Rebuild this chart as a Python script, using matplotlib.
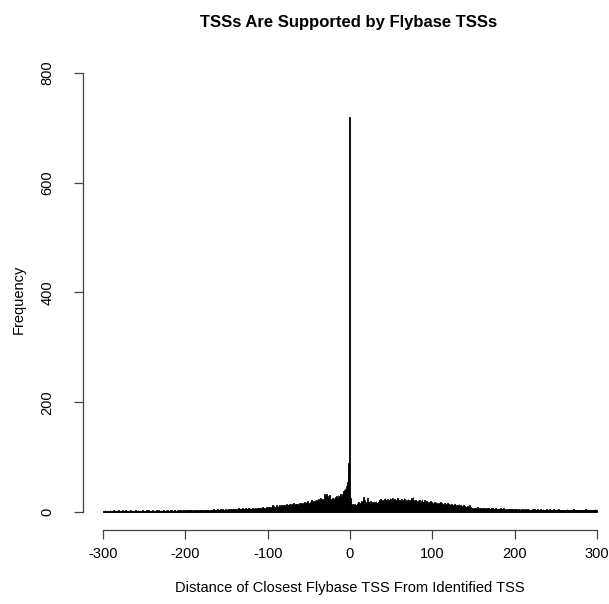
import numpy as np
import matplotlib.pyplot as plt

# bin counts, 1-unit bins with left edges -300 .. 299 (20 bins per row)
left_edges = list(range(-300, 300))
counts = [
    2, 1, 3, 2, 1, 2, 2, 1, 3, 2, 1, 2, 3, 1, 2, 2, 1, 2, 3, 2,        # -300
    1, 2, 2, 3, 1, 2, 1, 3, 2, 2, 1, 2, 2, 3, 1, 2, 2, 1, 2, 3,        # -280
    2, 1, 3, 2, 2, 1, 2, 3, 2, 1, 2, 2, 3, 2, 1, 3, 2, 2, 1, 2,        # -260
    3, 2, 2, 1, 3, 2, 2, 3, 1, 2, 3, 2, 2, 3, 2, 1, 3, 2, 3, 2,        # -240
    2, 3, 2, 3, 1, 2, 3, 3, 2, 2, 3, 2, 4, 2, 3, 2, 3, 2, 3, 3,        # -220
    3, 2, 4, 3, 2, 3, 3, 4, 2, 3, 3, 2, 4, 3, 3, 2, 4, 3, 3, 4,        # -200
    3, 4, 2, 3, 4, 3, 3, 4, 3, 2, 4, 3, 4, 3, 5, 3, 4, 3, 4, 5,        # -180
    4, 3, 5, 4, 3, 5, 4, 4, 6, 3, 5, 4, 5, 4, 6, 5, 4, 5, 6, 4,        # -160
    5, 6, 4, 5, 7, 5, 6, 5, 6, 7, 5, 6, 5, 7, 6, 5, 7, 6, 8, 6,        # -140
    6, 7, 5, 8, 6, 7, 6, 8, 7, 6, 8, 7, 6, 9, 7, 8, 6, 8, 9, 7,        # -120
    8, 9, 7, 10, 8, 12, 9, 11, 10, 8, 12, 10, 11, 9, 13, 10, 12, 11, 10, 13,   # -100
    12, 11, 14, 10, 13, 12, 15, 11, 14, 13, 12, 16, 13, 14, 12, 15, 14, 13, 16, 15,  # -80
    14, 17, 15, 16, 19, 15, 18, 16, 20, 17, 15, 19, 18, 21, 17, 20, 19, 22, 18, 21,  # -60
    20, 23, 19, 22, 25, 21, 24, 22, 26, 33, 28, 32, 30, 25, 27, 31, 24, 22, 26, 23,  # -40
    25, 22, 28, 30, 24, 31, 26, 29, 33, 28, 32, 35, 38, 40, 42, 48, 55, 65, 90, 720,  # -20
    25, 12, 10, 14, 11, 15, 13, 12, 16, 14, 18, 15, 17, 20, 16, 19, 28, 22, 18, 17,  # 0
    16, 25, 18, 15, 20, 17, 14, 19, 16, 18, 15, 20, 17, 16, 19, 21, 18, 24, 20, 22,  # 20
    19, 23, 26, 21, 18, 24, 20, 22, 25, 19, 23, 26, 21, 18, 24, 22, 20, 25, 21, 19,  # 40
    22, 20, 24, 18, 21, 26, 23, 19, 22, 20, 24, 21, 18, 22, 25, 20, 27, 21, 19, 22,  # 60
    20, 18, 22, 19, 21, 17, 20, 23, 18, 19, 21, 17, 20, 18, 16, 19, 17, 20, 18, 16,  # 80
    17, 15, 18, 16, 19, 14, 17, 15, 16, 18, 14, 16, 15, 13, 17, 14, 15, 13, 16, 14,  # 100
    13, 15, 12, 14, 11, 13, 15, 12, 10, 13, 11, 12, 14, 10, 12, 11, 9, 12, 10, 11,   # 120
    10, 9, 11, 8, 10, 12, 9, 7, 5, 6, 8, 7, 6, 8, 9, 7, 6, 8, 7, 6,                # 140
    7, 6, 8, 5, 7, 6, 5, 7, 8, 6, 5, 7, 6, 8, 5, 6, 7, 5, 6, 5,                    # 160
    6, 5, 7, 4, 6, 5, 7, 6, 4, 5, 6, 4, 5, 6, 5, 4, 6, 5, 4, 5,                    # 180
    4, 5, 6, 4, 5, 3, 5, 4, 6, 4, 5, 3, 4, 5, 4, 6, 3, 5, 4, 3,                    # 200
    4, 5, 3, 4, 6, 3, 4, 5, 3, 4, 3, 5, 4, 3, 5, 4, 3, 4, 5, 3,                    # 220
    4, 3, 5, 3, 4, 3, 4, 5, 3, 4, 3, 4, 3, 5, 3, 4, 3, 4, 3, 4,                    # 240
    3, 4, 3, 5, 3, 4, 3, 4, 3, 3, 4, 5, 3, 4, 3, 3, 4, 3, 4, 3,                    # 260
    3, 4, 3, 3, 4, 3, 5, 3, 3, 4, 3, 3, 4, 3, 4, 3, 3, 5, 3, 4,                    # 280
]
x_ticks = [-300, -200, -100, 0, 100, 200, 300]
y_ticks = [0, 200, 400, 600, 800]

plt.rcParams['font.family'] = ['Liberation Sans', 'DejaVu Sans']
plt.rcParams['axes.unicode_minus'] = False

fig = plt.figure(figsize=(6.09, 6.04), dpi=100)
ax = fig.add_axes([0.1363, 0.1232, 0.8637, 0.7851])

ax.bar(left_edges, counts, width=1, align='edge', color='black',
       edgecolor='black', linewidth=0.6)

ax.set_xlim(-324.3, 314.6)
ax.set_ylim(-32, 832)

# R style detached axes
for s in ['top', 'right']:
    ax.spines[s].set_visible(False)
ax.spines['bottom'].set_bounds(-300, 300)
ax.spines['left'].set_bounds(0, 800)
for s in ['bottom', 'left']:
    ax.spines[s].set_color('#444444')
    ax.spines[s].set_linewidth(0.9)

ax.set_xticks(x_ticks)
ax.set_yticks(y_ticks)
ax.set_yticklabels([str(v) for v in y_ticks], rotation=90, va='center')
ax.tick_params(axis='both', direction='out', length=6.5, width=0.9,
               color='#444444', labelsize=10.5)
ax.tick_params(axis='x', pad=6)
ax.tick_params(axis='y', pad=14)

fig.text(0.573, 0.962, "TSSs Are Supported by Flybase TSSs",
         ha='center', va='center', fontsize=12, fontweight='bold')
fig.text(0.575, 0.026, "Distance of Closest Flybase TSS From Identified TSS",
         ha='center', va='center', fontsize=10.5)
fig.text(0.03, 0.505, "Frequency", ha='center', va='center',
         rotation=90, fontsize=10.5)

fig.savefig("out.png", dpi=100)
